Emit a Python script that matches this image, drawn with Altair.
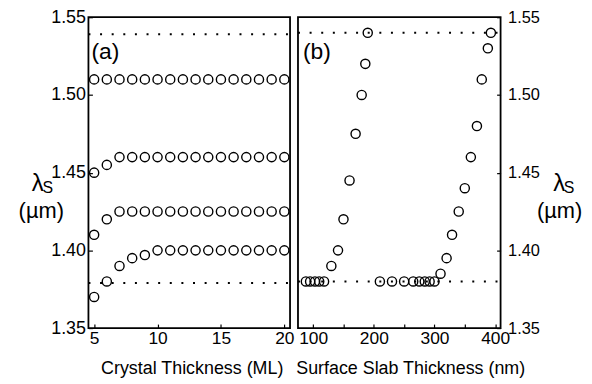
import altair as alt
import pandas as pd

# ---------------- data ----------------
crystal_ml = [5, 6, 7, 8, 9, 10, 11, 12, 13, 14, 15, 16, 17, 18, 19, 20]
mode_1 = [1.510, 1.510, 1.510, 1.510, 1.510, 1.510, 1.510, 1.510,
          1.510, 1.510, 1.510, 1.510, 1.510, 1.510, 1.510, 1.510]
mode_2 = [1.450, 1.455, 1.460, 1.460, 1.460, 1.460, 1.460, 1.460,
          1.460, 1.460, 1.460, 1.460, 1.460, 1.460, 1.460, 1.460]
mode_3 = [1.410, 1.420, 1.425, 1.425, 1.425, 1.425, 1.425, 1.425,
          1.425, 1.425, 1.425, 1.425, 1.425, 1.425, 1.425, 1.425]
mode_4 = [1.370, 1.380, 1.390, 1.395, 1.397, 1.400, 1.400, 1.400,
          1.400, 1.400, 1.400, 1.400, 1.400, 1.400, 1.400, 1.400]
left_dotted = [1.539, 1.379]

slab_nm = [88, 95, 103, 110, 118, 130, 141, 150, 160, 170, 180, 186, 190,
           210, 230, 250, 265, 275, 284, 292, 300,
           310, 320, 329, 340, 350, 360, 370, 378, 388, 393]
slab_lambda = [1.380, 1.380, 1.380, 1.380, 1.380, 1.390, 1.400, 1.420, 1.445,
               1.475, 1.500, 1.520, 1.540,
               1.380, 1.380, 1.380, 1.380, 1.380, 1.380, 1.380, 1.380,
               1.385, 1.395, 1.410, 1.425, 1.440, 1.460, 1.480, 1.510,
               1.530, 1.540]
right_dotted = [1.540, 1.380]

y_ticks = [1.35, 1.40, 1.45, 1.50, 1.55]
left_x_ticks = [5, 10, 15, 20]
right_x_ticks = [100, 150, 200, 250, 300, 350, 400]

# ---------------- tables ----------------
df_left = pd.concat([
    pd.DataFrame({"ml": crystal_ml, "lam": s, "mode": name})
    for name, s in [("1", mode_1), ("2", mode_2), ("3", mode_3), ("4", mode_4)]
])
df_left_dot = pd.DataFrame({"lam": left_dotted})
df_right = pd.DataFrame({"nm": slab_nm, "lam": slab_lambda})
df_right_dot = pd.DataFrame({"lam": right_dotted})

FONT = "Liberation Sans"
W1, W2, H = 203, 204, 313
y_scale = alt.Scale(domain=[1.35, 1.55], nice=False, zero=False)
x1_scale = alt.Scale(domain=[4.55, 20.45], nice=False, zero=False)
x2_scale = alt.Scale(domain=[75, 409], nice=False, zero=False)

def y_axis(orient, pad, size):
    return alt.Axis(values=y_ticks, format=".2f", orient=orient, offset=-4,
                    tickSize=4, tickWidth=1.2, tickColor="black",
                    labelPadding=pad, domain=False, grid=False, title=None,
                    labelFontSize=size, labelColor="black", labelFont=FONT,
                    labelOverlap=False)

def txt(label, x, y, size, align="center"):
    return alt.Chart(pd.DataFrame({"t": [label]})).mark_text(
        font=FONT, fontSize=size, color="black", align=align,
        baseline="alphabetic").encode(
        text="t:N", x=alt.value(x), y=alt.value(y))

dot_style = dict(strokeDash=[2, 9.7], strokeWidth=2, color="black")
pt_style = dict(shape="circle", filled=False, color="black", size=85,
                strokeWidth=1.4, opacity=1)

def x_axis(values, title, title_x, label_expr=None):
    kw = dict(values=values, offset=-4, tickSize=4, tickWidth=1.2,
              tickColor="black", labelPadding=2, domain=False, grid=False,
              title=title, titleFontSize=18, titleFontWeight="normal",
              titleColor="black", titlePadding=12, titleX=title_x,
              labelFontSize=17.5, labelColor="black", labelFlush=False,
              labelOverlap=False)
    if label_expr:
        kw["labelExpr"] = label_expr
    return alt.Axis(**kw)

# ---------------- left panel ----------------
left_pts = alt.Chart(df_left).mark_point(**pt_style).encode(
    x=alt.X("ml:Q", scale=x1_scale,
            axis=x_axis(left_x_ticks, "Crystal Thickness (ML)", 104)),
    y=alt.Y("lam:Q", scale=y_scale, axis=y_axis("left", 3, 18)),
    detail="mode:N",
)
left_dot = alt.Chart(df_left_dot).mark_rule(**dot_style).encode(
    y=alt.Y("lam:Q", scale=y_scale), x=alt.value(0), x2=alt.value(W1))

left = alt.layer(
    left_dot, left_pts,
    txt("(a)", 3, 42, 23, "left"),
    txt("λ", -51, 175, 24),
    txt("S", -41, 177, 16),
    txt("(µm)", -47.5, 202, 22),
).properties(width=W1, height=H)

# ---------------- right panel ----------------
right_pts = alt.Chart(df_right).mark_point(**pt_style).encode(
    x=alt.X("nm:Q", scale=x2_scale,
            axis=x_axis(right_x_ticks, "Surface Slab Thickness (nm)", 113,
                        "datum.value % 100 == 0 ? datum.label : ''")),
    y=alt.Y("lam:Q", scale=y_scale, axis=y_axis("right", 7, 16.5)),
)
right_dot = alt.Chart(df_right_dot).mark_rule(**dot_style).encode(
    y=alt.Y("lam:Q", scale=y_scale), x=alt.value(0), x2=alt.value(W2))

right = alt.layer(
    right_dot, right_pts,
    txt("(b)", 5, 42, 23, "left"),
    txt("λ", 263, 175, 24),
    txt("S", 273, 177, 16),
    txt("(µm)", 263.5, 202, 22),
).properties(width=W2, height=H)

chart = alt.hconcat(left, right, spacing=8, bounds="flush").properties(
    padding={"left": 9, "top": -2, "right": 0, "bottom": 0},
    background="white",
).configure_view(stroke="black", strokeWidth=1.8).configure_axis(
    labelFont=FONT, titleFont=FONT
)

chart.save("out.html", embed_options={"renderer": "svg", "actions": False})
